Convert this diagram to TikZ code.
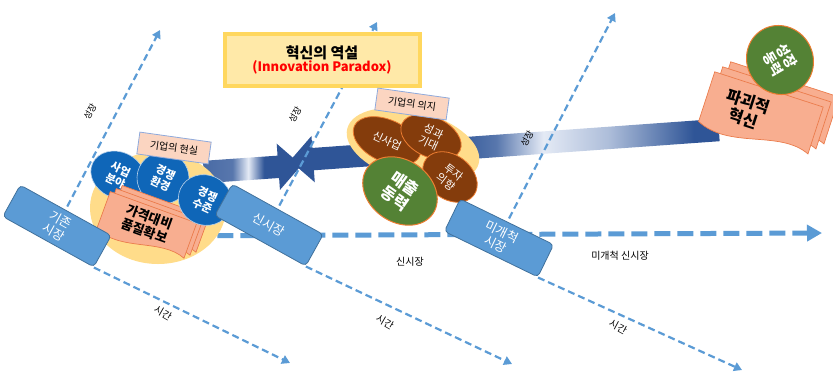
\documentclass[tikz,border=0pt]{standalone}
\usepackage{fontspec}
\setmainfont{Noto Sans CJK KR}
\usetikzlibrary{arrows.meta,shapes.geometric,shapes.arrows}

\definecolor{axisblue}{HTML}{5B9BD5}
\definecolor{boxedge}{HTML}{41719C}
\definecolor{yelfill}{HTML}{FFDC8A}
\definecolor{tagfill}{HTML}{FBD5C1}
\definecolor{tagedge}{HTML}{8FAADC}
\definecolor{discblue}{HTML}{0F66B8}
\definecolor{docfill}{HTML}{F8AE90}
\definecolor{docedge}{HTML}{EB7C4C}
\definecolor{brownfill}{HTML}{843C0C}
\definecolor{greenfill}{HTML}{548235}
\definecolor{rimorange}{HTML}{ED7D31}
\definecolor{titlefill}{HTML}{FFE9A8}
\definecolor{titleedge}{HTML}{FFD75E}
\definecolor{arrdark}{HTML}{2F5597}
\definecolor{arrmid}{HTML}{5877AD}
\definecolor{arrlight}{HTML}{E4EAF5}
\definecolor{arrpale}{HTML}{AEBEDA}
\definecolor{paradoxred}{HTML}{FF0000}

\pgfdeclarehorizontalshading{growshade}{100bp}{color(0bp)=(arrdark); color(40bp)=(arrmid); color(48bp)=(arrlight); color(56bp)=(arrdark); color(100bp)=(arrdark)}
\pgfdeclarehorizontalshading{pushshade}{100bp}{color(0bp)=(arrdark); color(44bp)=(arrdark); color(49bp)=(arrmid); color(54.5bp)=(arrlight); color(62bp)=(arrpale); color(72bp)=(arrdark); color(100bp)=(arrdark)}

\pgfdeclarelayer{flows}
\pgfdeclarelayer{grid}
\pgfsetlayers{flows,grid,main}

\tikzset{
  axisline/.style={axisblue, line width=2.2pt, dash pattern=on 7pt off 4pt, -{Triangle[width=9pt,length=8pt]}},
  flowline/.style={axisblue, line width=5pt, dash pattern=on 16pt off 7pt, -{Triangle[width=16pt,length=15pt]}},
  mktbox/.style={rectangle, rounded corners=4pt, fill=axisblue, draw=boxedge, line width=0.8pt, text=white, minimum width=104pt, minimum height=36pt, align=center, inner sep=1pt, font=\fontsize{12.5}{14}\selectfont},
  tag/.style={rectangle, fill=tagfill, draw=tagedge, line width=0.8pt, minimum width=72pt, minimum height=22pt, inner sep=1pt, font=\fontsize{10}{12}\selectfont},
  bluedisc/.style={ellipse, fill=discblue, draw=white!70!discblue, line width=0.6pt, text=white, align=center, inner sep=0pt, font=\bfseries\fontsize{11}{12.5}\selectfont},
  brownegg/.style={ellipse, fill=brownfill, draw=rimorange, line width=0.8pt, text=white, align=center, inner sep=0pt, font=\fontsize{11}{12.5}\selectfont},
  greenegg/.style={ellipse, fill=greenfill, draw=rimorange, line width=1pt, text=white, align=center, inner sep=0pt, font=\bfseries\fontsize{16}{18}\selectfont},
  fatarrow/.style={single arrow, inner xsep=0pt, inner ysep=11pt, minimum width=46pt, single arrow head extend=12pt},
  axislabel/.style={font=\fontsize{10}{12}\selectfont},
  docface/.style={fill=docfill, draw=docedge, line width=0.7pt},
  docsheet/.pic={\path[docface] (-\docw,-\doch) -- (\docw,-\doch) -- (\docw,0.7*\doch) .. controls (0.4*\docw,0.2*\doch) and (-0.35*\docw,1.4*\doch) .. (-\docw,0.8*\doch) -- cycle;}
}

\begin{document}
\begin{tikzpicture}[x=1pt, y=-1pt]
  \useasboundingbox (0,0) rectangle (833,376);

  % axis ends
  \coordinate (up1) at (160,30);
  \coordinate (up2) at (377,22);
  \coordinate (up3) at (615,13);
  \coordinate (down1) at (290,363);
  \coordinate (down2) at (512,364);
  \coordinate (down3) at (742,370);
  \coordinate (flowend) at (822,233);

  % big arrows (behind)
  \begin{pgfonlayer}{flows}
    \node[fatarrow, shading=growshade, minimum height=98pt, rotate=4] (realarrow) at (247,169) {};
    \node[fatarrow, shading=pushshade, minimum height=430pt, shape border rotate=180, rotate=4.1] (disruptarrow) at (510,145) {};
  \end{pgfonlayer}

  % title
  \node[rectangle, fill=titlefill, draw=titleedge, line width=4pt, minimum width=195pt, minimum height=52pt, align=center] (paradox) at (322,60)
    {{\bfseries\fontsize{15}{18}\selectfont 혁신의 역설}\\[-1pt]{\color{paradoxred}\bfseries\fontsize{13}{16}\selectfont (Innovation Paradox)}};

  % left cluster: reality of the firm
  \node[ellipse, fill=yelfill, minimum width=136pt, minimum height=112pt] (yel1) at (158,208) {};
  \node[bluedisc, minimum width=56pt, minimum height=46pt, rotate=-25] (field) at (118,175) {사업\\분야};
  \node[bluedisc, minimum width=52pt, minimum height=52pt, rotate=-25] (env) at (163,178) {경쟁\\환경};
  \def\docw{46}\def\doch{22}
  \foreach \k in {2,1,0}
    \pic[rotate=-20] at ({146+6*\k},{228-3*\k}) {docsheet};
  \node[rotate=-20, align=center, font=\bfseries\fontsize{13}{15}\selectfont] (quality) at (147,224) {가격대비\\품질확보};
  \node[bluedisc, minimum width=54pt, minimum height=50pt, rotate=-25] (level) at (205,200) {경쟁\\수준};
  \node[tag, rotate=-8] (reality) at (174,148) {기업의 현실};

  % middle cluster: will of the firm
  \node[ellipse, fill=yelfill, minimum width=136pt, minimum height=70pt, rotate=-15] (yel2) at (413,146) {};
  \node[brownegg, minimum width=72pt, minimum height=42pt, rotate=-25] (newbiz) at (387,141) {신사업};
  \node[brownegg, minimum width=64pt, minimum height=40pt, rotate=-25] (expect) at (431,137) {성과\\기대};
  \node[brownegg, minimum width=60pt, minimum height=44pt, rotate=-38] (invest) at (450,177) {투자\\의향};
  \node[greenegg, minimum width=80pt, minimum height=62pt, rotate=-35] (sales) at (400,191) {매출\\동력};
  \node[tag, rotate=-8] (will) at (412,104) {기업의 의지};

  % right: disruptive innovation
  \def\docw{57}\def\doch{29}
  \foreach \k in {2,1,0}
    \pic[rotate=-18] at ({760+8*\k},{117-5*\k}) {docsheet};
  \node[rotate=-18, align=center, font=\bfseries\fontsize{16}{18}\selectfont] (disrupt) at (746,110) {파괴적\\혁신};
  \node[greenegg, minimum width=70pt, minimum height=66pt, rotate=-60, font=\bfseries\fontsize{14}{16}\selectfont] (engine) at (780,60) {성장\\동력};

  % markets
  \node[mktbox, rotate=-29] (oldmkt) at (57,226) {기존\\시장};
  \node[mktbox, rotate=-29] (newmkt) at (269,225) {신시장};
  \node[mktbox, rotate=-26] (openmkt) at (499,238) {미개척\\시장};

  % axes
  \begin{pgfonlayer}{grid}
    \draw[axisline] (oldmkt.center) -- (up1);
    \draw[axisline] (newmkt.center) -- (up2);
    \draw[axisline] (openmkt.center) -- (up3);
    \draw[axisline] (oldmkt.south east) -- (down1);
    \draw[axisline] (newmkt.south east) -- (down2);
    \draw[axisline] (openmkt.south east) -- (down3);
    \draw[flowline] (yel1.-25) -- (flowend);
  \end{pgfonlayer}

  % axis labels
  \node[axislabel, rotate=60, font=\fontsize{9}{11}\selectfont] (grow1) at (90,112) {성장};
  \node[axislabel, rotate=60, font=\fontsize{9}{11}\selectfont] (grow2) at (295,115) {성장};
  \node[axislabel, rotate=60, font=\fontsize{9}{11}\selectfont] (grow3) at (527,139) {성장};
  \node[axislabel, rotate=-30] (time1) at (163,313) {시간};
  \node[axislabel, rotate=-30] (time2) at (385,322) {시간};
  \node[axislabel, rotate=-28] (time3) at (618,327) {시간};
  \node[axislabel] (newlab) at (410,262) {신시장};
  \node[axislabel] (openlab) at (620,256) {미개척 신시장};
\end{tikzpicture}
\end{document}
